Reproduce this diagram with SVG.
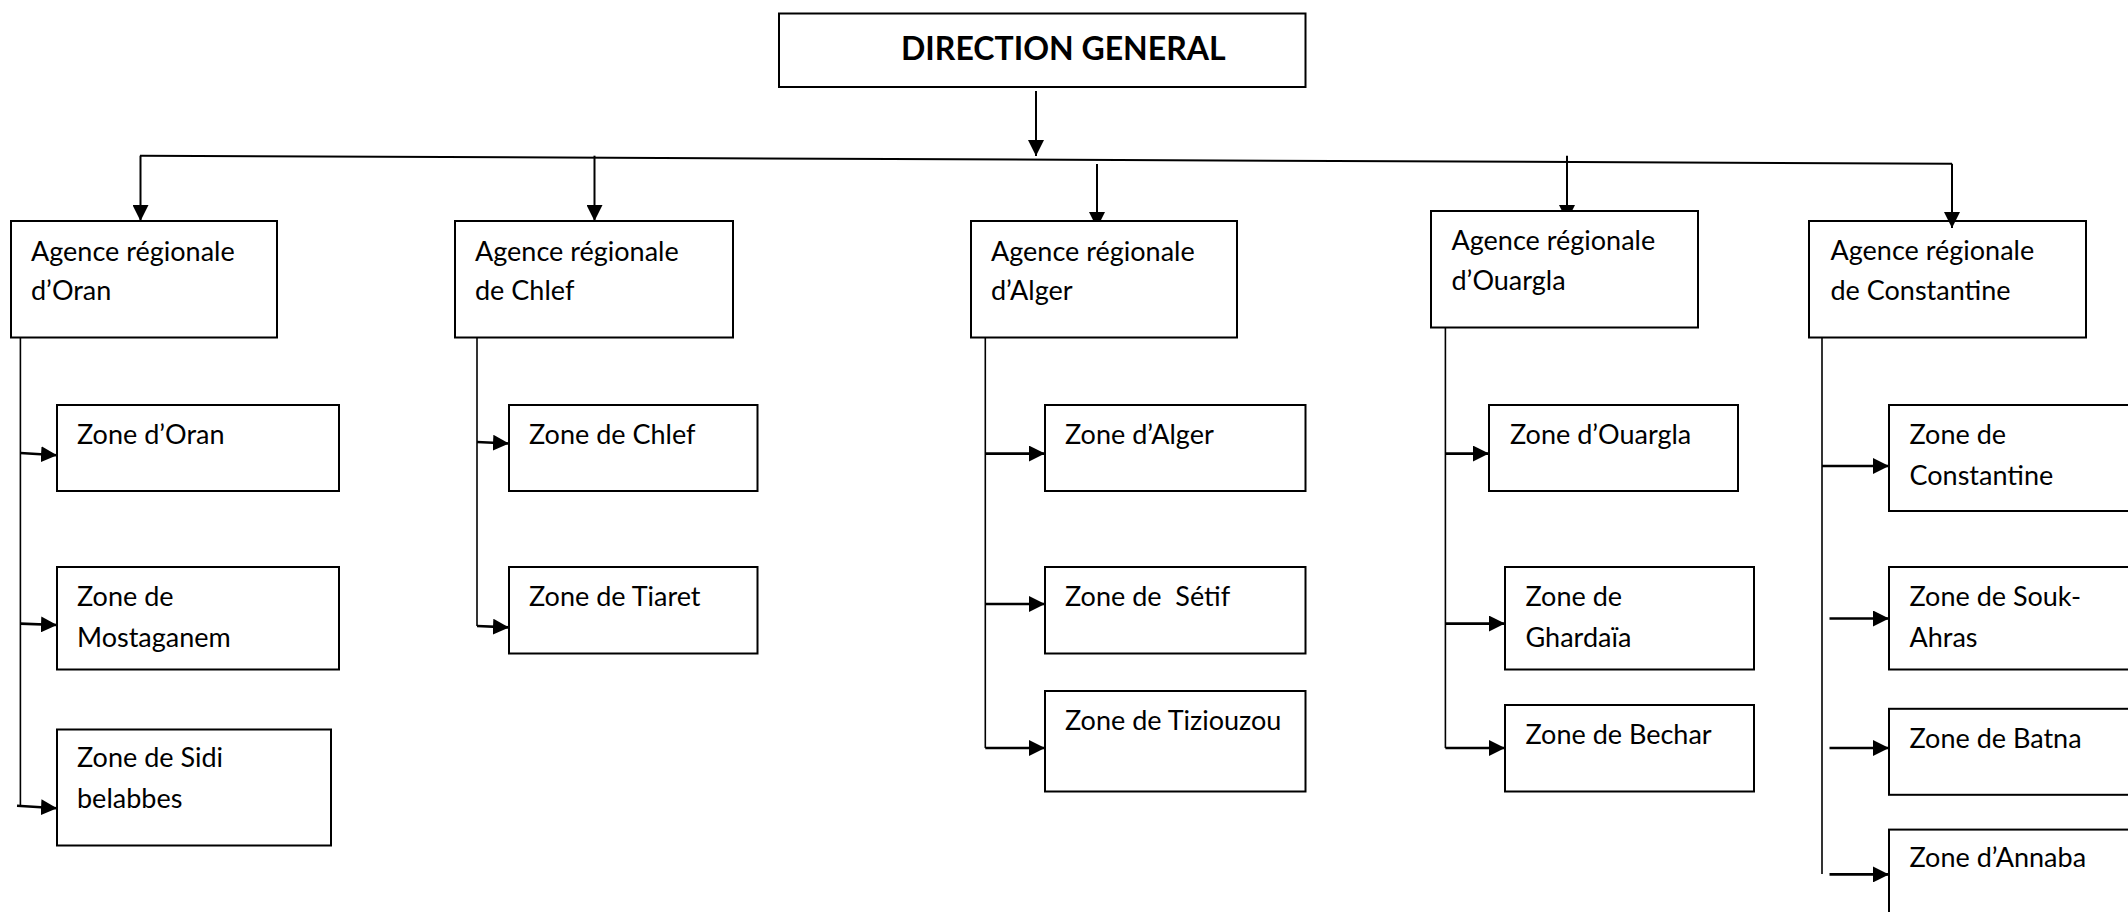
<svg xmlns="http://www.w3.org/2000/svg" width="2128" height="912" viewBox="0 0 2128 912">
<style>
.box{fill:#fff;stroke:#000;stroke-width:2}
.open{fill:none}
.t{font-family:Lato,"Open Sans","Liberation Sans",sans-serif;font-size:27px;fill:#000;white-space:pre}
.h{font-family:Lato,"Open Sans","Liberation Sans",sans-serif;font-size:32px;font-weight:bold;fill:#000}
.c{fill:none;stroke:#000;stroke-width:2}
.trunk{fill:none;stroke:#000;stroke-width:1.6}
.ar{fill:none;stroke:#000;stroke-width:2.6;marker-end:url(#ah)}
.dn{fill:none;stroke:#000;stroke-width:2;marker-end:url(#ah)}
</style>
<defs>
<marker id="ah" markerWidth="16" markerHeight="16" refX="16" refY="8" orient="auto" markerUnits="userSpaceOnUse">
<path d="M0,0 L16,8 L0,16 Z" fill="#000"/>
</marker>
</defs>
<rect width="2128" height="912" fill="#fff"/>

<g id="connectors">
<line class="dn" x1="1036" y1="91" x2="1036" y2="156"/>
<line class="c" x1="140" y1="155.7" x2="1952" y2="163.7"/>
<line class="dn" x1="140.5" y1="155.7" x2="140.5" y2="221"/>
<line class="dn" x1="594.5" y1="155.7" x2="594.5" y2="221"/>
<line class="dn" x1="1097" y1="164" x2="1097" y2="228"/>
<line class="dn" x1="1567" y1="155.7" x2="1567" y2="221"/>
<line class="dn" x1="1952" y1="163.7" x2="1952" y2="228"/>

<line class="trunk" x1="20.4" y1="337" x2="20.4" y2="806"/>
<line class="ar" x1="20.4" y1="453" x2="57" y2="455.3"/>
<line class="ar" x1="20.4" y1="623.6" x2="57" y2="625"/>
<line class="ar" x1="17" y1="805.8" x2="57" y2="808.2"/>

<line class="trunk" x1="477" y1="337" x2="477" y2="626"/>
<line class="ar" x1="477" y1="442" x2="509" y2="443.5"/>
<line class="ar" x1="477" y1="626" x2="509" y2="627.4"/>

<line class="trunk" x1="985.3" y1="337" x2="985.3" y2="748"/>
<line class="ar" x1="985.3" y1="453.6" x2="1045" y2="453.6"/>
<line class="ar" x1="985.3" y1="604" x2="1045" y2="604"/>
<line class="ar" x1="985.3" y1="748" x2="1045" y2="748"/>

<line class="trunk" x1="1445.4" y1="327" x2="1445.4" y2="748"/>
<line class="ar" x1="1445.4" y1="453.6" x2="1489" y2="453.6"/>
<line class="ar" x1="1445.4" y1="623.6" x2="1505" y2="623.6"/>
<line class="ar" x1="1445.4" y1="748" x2="1505" y2="748"/>

<line class="trunk" x1="1822" y1="337" x2="1822" y2="874"/>
<line class="ar" x1="1822" y1="466" x2="1889" y2="466"/>
<line class="ar" x1="1829.5" y1="618.5" x2="1889" y2="618.5"/>
<line class="ar" x1="1829.5" y1="748" x2="1889" y2="748"/>
<line class="ar" x1="1829.5" y1="874.4" x2="1889" y2="874.4"/>
</g>

<g id="direction">
<rect class="box" x="779" y="13.5" width="526.5" height="73.5"/>
<text class="h" x="901" y="60">DIRECTION GENERAL</text>
</g>

<g id="agence-oran">
<rect class="box" x="11" y="221" width="266" height="116.5"/>
<text class="t" x="31" y="261">Agence régionale</text>
<text class="t" x="31" y="300">d’Oran</text>
</g>
<g id="agence-chlef">
<rect class="box" x="455" y="221" width="278" height="116.5"/>
<text class="t" x="475" y="261">Agence régionale</text>
<text class="t" x="475" y="300">de Chlef</text>
</g>
<g id="agence-alger">
<rect class="box" x="971" y="221" width="266" height="116.5"/>
<text class="t" x="991" y="261">Agence régionale</text>
<text class="t" x="991" y="300">d’Alger</text>
</g>
<g id="agence-ouargla">
<rect class="box" x="1431" y="211" width="267" height="116.5"/>
<text class="t" x="1451.5" y="250">Agence régionale</text>
<text class="t" x="1451.5" y="290">d’Ouargla</text>
</g>
<g id="agence-constantine">
<rect class="box open" x="1809" y="221" width="277" height="116.5"/>
<text class="t" x="1830.5" y="260">Agence régionale</text>
<text class="t" x="1830.5" y="300">de Constantine</text>
</g>

<g id="zone-oran">
<rect class="box" x="57" y="405" width="282" height="86"/>
<text class="t" x="77" y="444">Zone d’Oran</text>
</g>
<g id="zone-mostaganem">
<rect class="box" x="57" y="567" width="282" height="102.5"/>
<text class="t" x="77" y="605.5">Zone de</text>
<text class="t" x="77" y="646.5">Mostaganem</text>
</g>
<g id="zone-sidi-belabbes">
<rect class="box" x="57" y="729.5" width="274" height="116"/>
<text class="t" x="77" y="767">Zone de Sidi</text>
<text class="t" x="77" y="807.5">belabbes</text>
</g>

<g id="zone-chlef">
<rect class="box" x="509" y="405" width="248.5" height="86"/>
<text class="t" x="529" y="444">Zone de Chlef</text>
</g>
<g id="zone-tiaret">
<rect class="box" x="509" y="567" width="248.5" height="86.5"/>
<text class="t" x="529" y="605.5">Zone de Tiaret</text>
</g>

<g id="zone-alger">
<rect class="box" x="1045" y="405" width="260.5" height="86"/>
<text class="t" x="1065" y="444">Zone d’Alger</text>
</g>
<g id="zone-setif">
<rect class="box" x="1045" y="567" width="260.5" height="86.5"/>
<text class="t" x="1065" y="605.5">Zone de  Sétif</text>
</g>
<g id="zone-tiziouzou">
<rect class="box" x="1045" y="691" width="260.5" height="100.5"/>
<text class="t" x="1065" y="729.5">Zone de Tiziouzou</text>
</g>

<g id="zone-ouargla">
<rect class="box" x="1489" y="405" width="249" height="86"/>
<text class="t" x="1510" y="444">Zone d’Ouargla</text>
</g>
<g id="zone-ghardaia">
<rect class="box" x="1505" y="567" width="249" height="102.5"/>
<text class="t" x="1525.5" y="605.5">Zone de</text>
<text class="t" x="1525.5" y="646.5">Ghardaïa</text>
</g>
<g id="zone-bechar">
<rect class="box" x="1505" y="705" width="249" height="86.5"/>
<text class="t" x="1525.5" y="743.5">Zone de Bechar</text>
</g>

<g id="zone-constantine">
<rect class="box" x="1889" y="405" width="260" height="106"/>
<text class="t" x="1909.5" y="444">Zone de</text>
<text class="t" x="1909.5" y="484.5">Constantine</text>
</g>
<g id="zone-souk-ahras">
<rect class="box" x="1889" y="567" width="260" height="102.5"/>
<text class="t" x="1909.5" y="605.5">Zone de Souk-</text>
<text class="t" x="1909.5" y="646.5">Ahras</text>
</g>
<g id="zone-batna">
<rect class="box" x="1889" y="708.8" width="260" height="86"/>
<text class="t" x="1909.5" y="747.5">Zone de Batna</text>
</g>
<g id="zone-annaba">
<rect class="box" x="1889" y="829.6" width="260" height="120"/>
<text class="t" x="1909.5" y="867">Zone d’Annaba</text>
</g>
</svg>
